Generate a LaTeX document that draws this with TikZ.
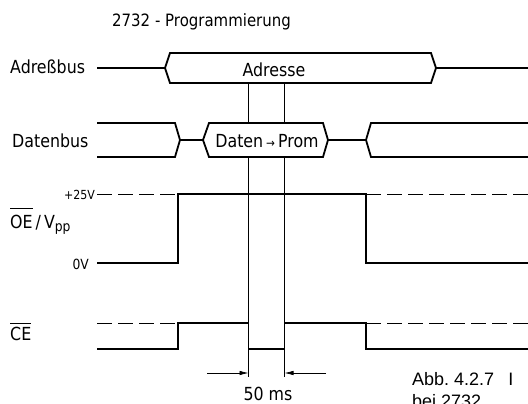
\documentclass[tikz,border=0pt]{standalone}
\usepackage{fontspec}
\setmainfont{DejaVu Sans}[FakeStretch=0.88]
\newfontfamily\capfont{Liberation Sans}
\usetikzlibrary{arrows.meta}
\newcommand{\ovlbar}[2]{\vbox{\hrule height 1pt\kern #1\hbox{#2}}}
\begin{document}
\begin{tikzpicture}[x=1pt,y=-1pt,line join=miter,
  sig/.style={line width=1.8pt},
  thinline/.style={line width=0.8pt},
  dsh/.style={line width=0.9pt,dash pattern=on 15pt off 6pt},
  lbl/.style={font=\fontsize{18}{21}\selectfont,inner sep=0pt,anchor=base west},
  smalllbl/.style={font=\fontsize{12.5}{14}\selectfont,inner sep=0pt,anchor=base east},
  dimarrow/.style={line width=0.7pt,-{Latex[length=9pt,width=4.5pt]}}]
\useasboundingbox (0,0) rectangle (528,404);
\clip (0,0) rectangle (528,404);
\fill[white] (0,0) rectangle (528,404);

% labels
\node[lbl,font=\fontsize{17}{20}\selectfont] (title) at (112,27) {2732 - Programmierung};
\node[lbl] (adrlbl) at (10,74) {Adreßbus};
\node[lbl] (datlbl) at (12,147) {Datenbus};
\node[lbl] (oelbl) at (10,228) {\ovlbar{6pt}{OE}\,/\,V\raisebox{-3pt}{\fontsize{14}{14}\selectfont pp}};
\node[lbl] (celbl) at (10,340) {\ovlbar{3pt}{CE}};
\node[smalllbl] (p25) at (95,199) {+25V};
\node[smalllbl,font=\fontsize{14}{16}\selectfont] (zero) at (89,269) {0V};
\node[lbl,anchor=base] (adresse) at (274,77) {Adresse};
\node[lbl,anchor=base] (daten) at (267,147) {Daten\,{\fontsize{12}{12}\selectfont →}\,Prom};
\node[lbl,anchor=base] (ms) at (268,400) {50 ms};
\node[inner sep=0pt,anchor=base west,font=\capfont\fontsize{18}{20}\selectfont] (cap1) at (412,385)
  {Abb.\ 4.2.7\hspace{14pt}I};
\node[inner sep=0pt,anchor=base west,font=\capfont\fontsize{18}{20}\selectfont] (cap2) at (412,407) {bei 2732};

% Adressbus
\draw[sig] (97,68) -- (165,68);
\draw[sig] (170,53) -- (431,53) -- (436,68) -- (431,83) -- (170,83) -- (165,68) -- cycle;
\draw[sig] (436,68) -- (528,68);

% Datenbus
\draw[sig] (97,123) -- (175,123) -- (180,140) -- (175,157) -- (97,157);
\draw[sig] (180,140) -- (203,140);
\draw[sig] (209,123) -- (323,123) -- (328,140) -- (323,157) -- (209,157) -- (203,140) -- cycle;
\draw[sig] (328,140) -- (366,140);
\draw[sig] (530,123) -- (371,123) -- (366,140) -- (371,157) -- (530,157);

% vertical timing lines
\coordinate (va) at (248.5,377);
\coordinate (vb) at (284.5,377);
\draw[thinline] (248.5,83) -- (248.5,123);
\draw[thinline] (284.5,83) -- (284.5,123);
\draw[thinline] (248.5,157) -- (va);
\draw[thinline] (284.5,157) -- (vb);

% OE / Vpp
\draw[dsh] (97,194) -- (178,194);
\draw[dsh] (366,194) -- (530,194);
\draw[sig] (97,263) -- (178,263) -- (178,194) -- (366,194) -- (366,263) -- (530,263);

% CE
\draw[dsh] (97,323) -- (178,323);
\draw[dsh] (366,323) -- (530,323);
\draw[sig] (97,349) -- (178,349) -- (178,323) -- (248.5,323) -- (248.5,349) -- (284.5,349)
  -- (284.5,323) -- (366,323) -- (366,349) -- (530,349);

% 50 ms dimension arrows
\coordinate (al) at (207,373);
\coordinate (ar) at (326,373);
\draw[dimarrow] (al) -- (248.5,373);
\draw[dimarrow] (ar) -- (284.5,373);
\end{tikzpicture}
\end{document}
